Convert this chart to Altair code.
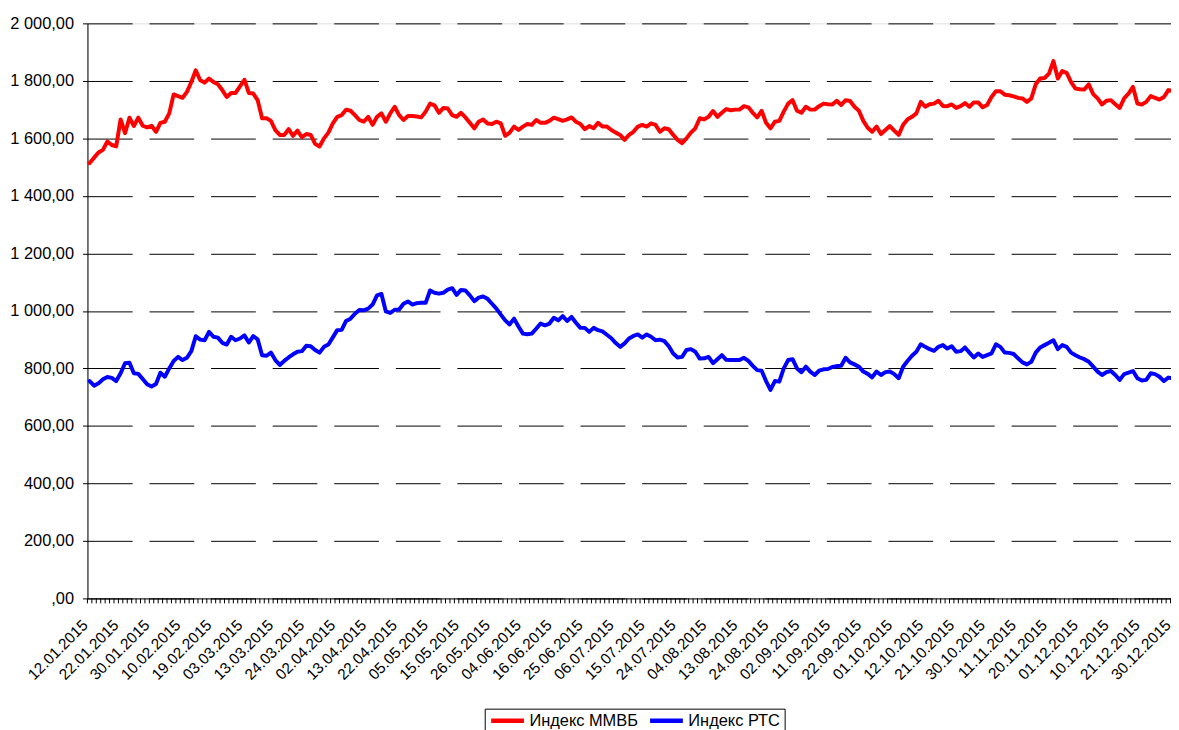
import altair as alt
import pandas as pd

SERIES = ["Индекс ММВБ", "Индекс РТС"]
COLORS = ["#FF0000", "#0000FF"]

DATE_LABELS = ["12.01.2015", "22.01.2015", "30.01.2015", "10.02.2015", "19.02.2015",
               "03.03.2015", "13.03.2015", "24.03.2015", "02.04.2015", "13.04.2015",
               "22.04.2015", "05.05.2015", "15.05.2015", "26.05.2015", "04.06.2015",
               "16.06.2015", "25.06.2015", "06.07.2015", "15.07.2015", "24.07.2015",
               "04.08.2015", "13.08.2015", "24.08.2015", "02.09.2015", "11.09.2015",
               "22.09.2015", "01.10.2015", "12.10.2015", "21.10.2015", "30.10.2015",
               "11.11.2015", "20.11.2015", "01.12.2015", "10.12.2015", "21.12.2015",
               "30.12.2015"]
LABEL_STEP = 7
N_DAYS = 246

MMVB = [1514, 1533, 1551, 1560, 1589, 1577, 1572, 1666, 1618, 1672,
        1643, 1672, 1644, 1638, 1644, 1623, 1654, 1658, 1687, 1753,
        1747, 1741, 1762, 1796, 1837, 1802, 1794, 1808, 1796, 1788,
        1768, 1744, 1758, 1758, 1781, 1804, 1758, 1756, 1733, 1670,
        1670, 1661, 1629, 1612, 1612, 1632, 1609, 1627, 1604, 1615,
        1612, 1581, 1572, 1600, 1620, 1652, 1675, 1681, 1700, 1696,
        1681, 1664, 1658, 1675, 1647, 1675, 1687, 1658, 1687, 1710,
        1681, 1664, 1678, 1678, 1676, 1673, 1693, 1721, 1715, 1689,
        1706, 1704, 1681, 1675, 1689, 1673, 1654, 1635, 1658, 1666,
        1652, 1650, 1658, 1652, 1609, 1620, 1641, 1629, 1641, 1650,
        1647, 1664, 1654, 1654, 1661, 1672, 1667, 1661, 1666, 1673,
        1658, 1650, 1632, 1643, 1635, 1654, 1641, 1641, 1629, 1620,
        1612, 1595, 1612, 1623, 1641, 1647, 1641, 1652, 1647, 1623,
        1635, 1632, 1612, 1595, 1583, 1600, 1620, 1635, 1670, 1666,
        1675, 1695, 1675, 1689, 1702, 1698, 1700, 1700, 1712, 1708,
        1689, 1673, 1696, 1654, 1635, 1658, 1661, 1693, 1721, 1733,
        1696, 1689, 1710, 1700, 1700, 1712, 1721, 1719, 1718, 1731,
        1716, 1733, 1730, 1710, 1696, 1661, 1637, 1623, 1641, 1615,
        1629, 1643, 1627, 1612, 1647, 1666, 1675, 1687, 1727, 1710,
        1719, 1721, 1731, 1713, 1712, 1718, 1706, 1712, 1723, 1710,
        1725, 1725, 1708, 1716, 1744, 1764, 1764, 1752, 1750, 1746,
        1741, 1739, 1727, 1739, 1788, 1808, 1810, 1825, 1869, 1808,
        1834, 1828, 1796, 1773, 1771, 1770, 1788, 1754, 1739, 1718,
        1731, 1733, 1719, 1706, 1739, 1756, 1779, 1721, 1718, 1727,
        1747, 1741, 1735, 1744, 1768, 1765]

RTS = [756, 740, 748, 762, 770, 767, 756, 783, 818, 820,
       783, 781, 763, 745, 737, 746, 785, 771, 800, 826,
       840, 829, 837, 860, 912, 900, 898, 927, 910, 907,
       889, 883, 910, 898, 904, 915, 890, 912, 901, 846,
       844, 855, 829, 812, 826, 838, 849, 858, 860, 879,
       877, 864, 855, 875, 883, 908, 933, 934, 965, 973,
       990, 1003, 1002, 1008, 1022, 1054, 1059, 998, 993, 1004,
       1005, 1025, 1033, 1022, 1027, 1028, 1028, 1071, 1063, 1060,
       1063, 1074, 1079, 1056, 1073, 1071, 1054, 1034, 1046, 1050,
       1042, 1025, 1008, 987, 967, 953, 973, 946, 921, 919,
       921, 938, 956, 950, 956, 976, 967, 982, 965, 979,
       959, 941, 941, 927, 941, 933, 929, 917, 905, 888,
       875, 887, 904, 913, 918, 907, 918, 910, 898, 900,
       895, 877, 852, 838, 840, 864, 867, 858, 834, 835,
       840, 818, 832, 846, 830, 829, 829, 829, 837, 826,
       809, 794, 792, 756, 725, 756, 754, 800, 829, 832,
       800, 787, 806, 789, 777, 792, 797, 798, 805, 808,
       809, 837, 821, 814, 806, 789, 781, 769, 789, 777,
       787, 789, 780, 766, 806, 826, 844, 858, 884, 875,
       867, 861, 875, 881, 869, 877, 858, 860, 873, 855,
       838, 852, 840, 846, 852, 884, 875, 855, 854, 850,
       835, 821, 814, 823, 855, 873, 881, 889, 898, 867,
       881, 875, 855, 846, 838, 832, 823, 806, 789, 777,
       787, 791, 777, 760, 780, 785, 791, 766, 758, 760,
       783, 780, 771, 756, 768, 766]

FONT = "Liberation Sans"
W, H = 1095, 579

rows = []
for name, vals in zip(SERIES, [MMVB, RTS]):
    for i, v in enumerate(vals):
        rows.append({"idx": i, "value": v, "series": name})
df = pd.DataFrame(rows)

ticks_df = pd.DataFrame({"b": [k - 0.5 for k in range(N_DAYS + 1)]})

label_arr = "[" + ",".join("'" + s + "'" for s in DATE_LABELS) + "]"
label_values = [LABEL_STEP * m for m in range(len(DATE_LABELS))]

xscale = alt.Scale(domain=[-0.5, N_DAYS - 0.5], nice=False, zero=False)
yscale = alt.Scale(domain=[0, 2000], nice=False)

xaxis = alt.Axis(values=label_values, labelExpr=label_arr + "[round(datum.value/7)]",
                 labelAngle=-45, labelAlign="right", labelBaseline="middle",
                 labelFont=FONT, labelFontSize=15.5, labelColor="#000",
                 labelPadding=24, labelOffset=-5,
                 labelOverlap=False, labelBound=False, labelFlush=False,
                 ticks=False, grid=False, domainColor="#000", domainWidth=1, title=None)

lines = alt.Chart(df).mark_line(strokeWidth=4, strokeJoin="round", strokeCap="round").encode(
    x=alt.X("idx:Q", scale=xscale, title=None, axis=xaxis),
    y=alt.Y("value:Q", scale=yscale, title=None,
            axis=alt.Axis(values=list(range(0, 2001, 200)),
                          labelExpr="datum.value == 0 ? ',00' : replace(replace(format(datum.value, ',.2f'), ',', ' '), '.', ',')",
                          labelFont=FONT, labelFontSize=16.5, labelColor="#000", labelPadding=9,
                          tickSize=5, tickColor="#000", domainColor="#000",
                          grid=True, gridColor="#000", gridDash=[45, 17], gridWidth=1)),
    color=alt.Color("series:N", sort=SERIES,
                    scale=alt.Scale(domain=SERIES, range=COLORS),
                    legend=alt.Legend(title=None, orient="none", legendX=400, legendY=690,
                                      direction="horizontal", strokeColor="#000", fillColor="#fff",
                                      padding=4, symbolType="stroke", symbolSize=1089,
                                      symbolStrokeWidth=4.5, clipHeight=16,
                                      labelFont=FONT, labelFontSize=16.5, labelColor="#000",
                                      labelOffset=3, columnPadding=9)),
    order=alt.Order("idx:Q"),
)

tick_marks = alt.Chart(ticks_df).mark_rule(color="#000", strokeWidth=1).encode(
    x=alt.X("b:Q", scale=xscale, title=None, axis=xaxis),
    y=alt.value(H),
    y2=alt.value(H + 5),
)

chart = alt.layer(lines, tick_marks).properties(
    width=W, height=H,
    padding={"left": 80, "top": 13, "right": -4, "bottom": 130},
    autosize="none",
).configure_view(stroke=None).configure_axisX(labelOverlap=False).configure(background="#ffffff")

chart.save("out.html", embed_options={"renderer": "svg", "actions": False})
